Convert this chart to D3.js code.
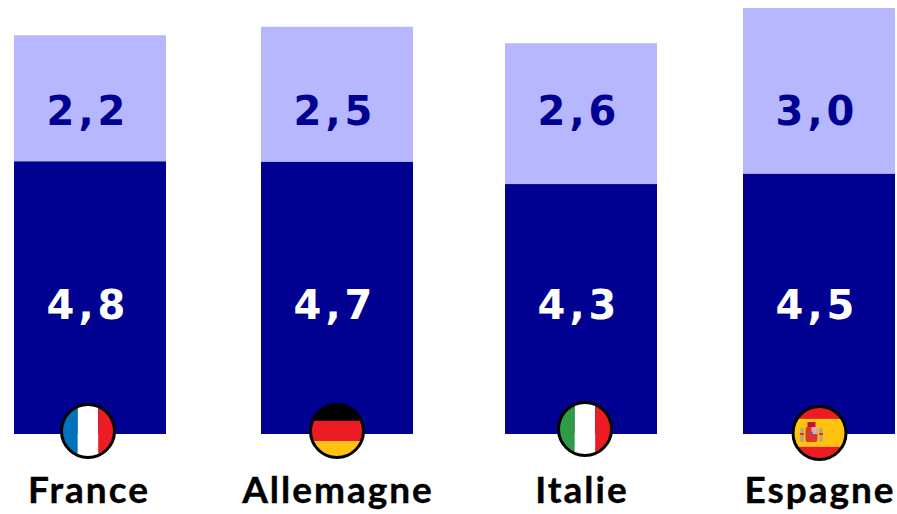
<!DOCTYPE html>
<html>
<head>
<meta charset="utf-8">
<script src="https://cdn.jsdelivr.net/npm/d3@7/dist/d3.min.js"></script>
<style>
  html, body { margin: 0; padding: 0; background: #fff; overflow: hidden; }
  .country { font-family: "Lato", sans-serif; font-weight: 700; font-size: 37px; letter-spacing: 2px; fill: #000; stroke: #000; stroke-width: 0.4px; }
  .value { font-family: "DejaVu Sans", sans-serif; font-weight: 700; font-size: 40px; letter-spacing: 4px; }
</style>
</head>
<body>
<div id="chart"></div>
<script>
(function(){
  var categories = ["France", "Allemagne", "Italie", "Espagne"];
  // bar heights as measured on the picture, the printed labels are rounded differently
  var lowerValues = [4.8, 4.79, 4.4, 4.58];
  var upperValues = [2.22, 2.38, 2.48, 2.92];
  var lowerLabels = ["4,8", "4,7", "4,3", "4,5"];
  var upperLabels = ["2,2", "2,5", "2,6", "3,0"];

  var width = 897,
    height = 514,
    baseline = 434,
    barWidth = 152;

  var svg = d3.select("#chart")
    .append("svg")
    .attr("width", width)
    .attr("height", height)
    .style("display", "block");

  // the bars are not evenly spaced in the original
  var x = d3.scaleOrdinal().domain(categories).range([14, 261, 505, 743]);
  var xName = d3.scaleOrdinal().domain(categories).range([89, 338, 582, 820]);
  var y = d3.scaleLinear().domain([0, 7.5]).range([baseline, baseline - 426]);

  var rows = categories.map(function(c, i) {
    return { name: c, low: lowerValues[i], up: upperValues[i], lowLabel: lowerLabels[i], upLabel: upperLabels[i] };
  });

  var bars = svg.selectAll(".bar")
    .data(rows)
    .enter().append("g")
    .attr("class", "bar");

  bars.append("rect")
    .attr("x", function(d) { return x(d.name) })
    .attr("y", function(d) { return y(d.low + d.up) })
    .attr("width", barWidth)
    .attr("height", function(d) { return y(d.low) - y(d.low + d.up) })
    .attr("fill", "#b7b7ff");

  bars.append("rect")
    .attr("x", function(d) { return x(d.name) })
    .attr("y", function(d) { return y(d.low) })
    .attr("width", barWidth)
    .attr("height", function(d) { return y(0) - y(d.low) })
    .attr("fill", "#000091");

  bars.append("text")
    .attr("class", "value")
    .attr("x", function(d) { return x(d.name) + barWidth / 2 - 2 })
    .attr("y", 125)
    .attr("text-anchor", "middle")
    .attr("fill", "#000091")
    .text(function(d) { return d.upLabel });

  bars.append("text")
    .attr("class", "value")
    .attr("x", function(d) { return x(d.name) + barWidth / 2 - 2 })
    .attr("y", 319)
    .attr("text-anchor", "middle")
    .attr("fill", "#fff")
    .text(function(d) { return d.lowLabel });

  svg.selectAll(".country")
    .data(rows)
    .enter().append("text")
    .attr("class", "country")
    .attr("x", function(d) { return xName(d.name) })
    .attr("y", 503)
    .attr("text-anchor", "middle")
    .text(function(d) { return d.name });

  // flags
  var r = 25.5;
  var blue = "#0072bc", red = "#ed1c24", green = "#2e9b47", yellow = "#ffc20e";
  var flagPos = { France: [88, 431], Allemagne: [337, 431], Italie: [585, 429], Espagne: [819.5, 433] };
  var flagStripes = {
    France: { dir: "v", stops: [[0, 0.3, blue], [0.3, 0.7, "#fff"], [0.7, 1, red]] },
    Allemagne: { dir: "h", stops: [[0, 0.3, "#000"], [0.3, 0.7, red], [0.7, 1, yellow]] },
    Italie: { dir: "v", stops: [[0, 0.3, green], [0.3, 0.7, "#fff"], [0.7, 1, red]] },
    Espagne: { dir: "h", stops: [[0, 0.22, red], [0.22, 0.77, yellow], [0.77, 1, red]] }
  };

  var defs = svg.append("defs");

  categories.forEach(function(c, i) {
    defs.append("clipPath").attr("id", "clip" + i)
      .append("circle").attr("r", r);

    var g = svg.append("g")
      .attr("transform", "translate(" + flagPos[c][0] + "," + flagPos[c][1] + ")");

    var inner = g.append("g").attr("clip-path", "url(#clip" + i + ")");
    var f = flagStripes[c];
    var s = d3.scaleLinear().domain([0, 1]).range([-r, r]);

    inner.selectAll("rect")
      .data(f.stops)
      .enter().append("rect")
      .attr("x", function(d) { return f.dir == "v" ? s(d[0]) : -r })
      .attr("y", function(d) { return f.dir == "h" ? s(d[0]) : -r })
      .attr("width", function(d) { return f.dir == "v" ? s(d[1]) - s(d[0]) : 2 * r })
      .attr("height", function(d) { return f.dir == "h" ? s(d[1]) - s(d[0]) : 2 * r })
      .attr("fill", function(d) { return d[2] });

    if (c == "Espagne") {
      // small coat of arms
      var arms = inner.append("g").attr("transform", "translate(-8,0)");
      arms.append("rect").attr("x", -6).attr("y", -6).attr("width", 12).attr("height", 15).attr("rx", 2).attr("fill", "#d8392b");
      arms.append("rect").attr("x", 0).attr("y", -6).attr("width", 6).attr("height", 7).attr("fill", "#e9a9b4");
      arms.append("rect").attr("x", -4).attr("y", -11).attr("width", 8).attr("height", 5).attr("fill", "#c8102e");
      arms.append("circle").attr("cx", 0).attr("cy", 0).attr("r", 1.5).attr("fill", "#3f6fb5");
      arms.append("rect").attr("x", -11).attr("y", -5).attr("width", 3).attr("height", 14).attr("fill", "#a9a58e");
      arms.append("rect").attr("x", 8).attr("y", -5).attr("width", 3).attr("height", 14).attr("fill", "#a9a58e");
      arms.append("rect").attr("x", -11.5).attr("y", 0).attr("width", 4).attr("height", 2).attr("fill", "#d8392b");
      arms.append("rect").attr("x", 7.5).attr("y", 0).attr("width", 4).attr("height", 2).attr("fill", "#d8392b");
    }

    g.append("circle")
      .attr("r", r + 1)
      .attr("fill", "none")
      .attr("stroke", "#000")
      .attr("stroke-width", 3);
  });
})();
</script>
</body>
</html>
